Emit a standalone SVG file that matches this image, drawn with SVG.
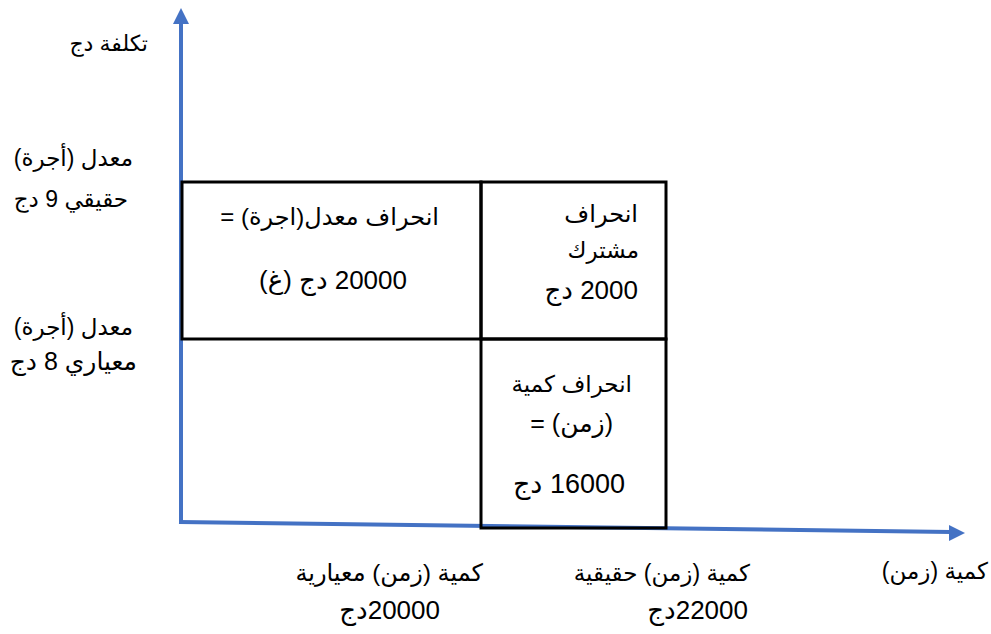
<svg xmlns="http://www.w3.org/2000/svg" width="991" height="634" viewBox="0 0 991 634">
<style>
.t{font-family:"Liberation Sans","DejaVu Sans",sans-serif;font-size:24px;fill:#000}
.r{direction:rtl;text-anchor:start}
.box{fill:none;stroke:#000;stroke-width:3}
.ax{stroke:#4472C4;stroke-width:4;fill:none}
</style>
<rect width="991" height="634" fill="#fff"/>
<g id="connectors">
<line class="ax" x1="181" y1="522" x2="181" y2="22"/>
<polygon points="181,8 173,24 189,24" fill="#4472C4"/>
<line class="ax" x1="179" y1="522" x2="951" y2="532"/>
<polygon points="965,533 949,525 949,541" fill="#4472C4"/>
</g>
<g id="box-rate">
<rect class="box" x="182" y="182" width="299" height="157"/>
<text class="t r" x="439" y="225" direction="rtl">انحراف معدل(اجرة) =</text>
<text class="t r" x="407" y="289" direction="rtl" style="font-size:26px">20000 دج (غ)</text>
</g>
<g id="box-joint">
<rect class="box" x="481" y="182" width="185" height="157"/>
<text class="t r" x="638" y="222" direction="rtl">انحراف</text>
<text class="t r" x="639" y="258" direction="rtl" style="font-size:23px">مشترك</text>
<text class="t r" x="638" y="299" direction="rtl" style="font-size:26px">2000 دج</text>
</g>
<g id="box-qty">
<rect class="box" x="481" y="339" width="185" height="189"/>
<text class="t r" x="632" y="392" direction="rtl" style="font-size:23px">انحراف كمية</text>
<text class="t r" x="613" y="432" direction="rtl" style="font-size:25px">(زمن) =</text>
<text class="t r" x="625" y="493" direction="rtl" style="font-size:27px">16000 دج</text>
</g>
<g id="label-y">
<text class="t r" x="148" y="51" direction="rtl" style="font-size:22px">تكلفة دج</text>
</g>
<g id="label-actual-rate">
<text class="t r" x="133" y="166" direction="rtl" style="font-size:23px">معدل (أجرة)</text>
<text class="t r" x="128" y="207" direction="rtl" style="font-size:23px">حقيقي 9 دج</text>
</g>
<g id="label-std-rate">
<text class="t r" x="133" y="335" direction="rtl" style="font-size:23px">معدل (أجرة)</text>
<text class="t r" x="137" y="370" direction="rtl" style="font-size:25px">معياري 8 دج</text>
</g>
<g id="label-std-qty">
<text class="t r" x="483" y="581" direction="rtl">كمية (زمن) معيارية</text>
<text class="t r" x="440" y="619" direction="rtl" style="font-size:26px">20000دج</text>
</g>
<g id="label-actual-qty">
<text class="t r" x="750" y="581" direction="rtl" style="font-size:23px">كمية (زمن) حقيقية</text>
<text class="t r" x="748" y="619" direction="rtl" style="font-size:26px">22000دج</text>
</g>
<g id="label-x">
<text class="t r" x="988" y="579" direction="rtl" style="font-size:23px">كمية (زمن)</text>
</g>
</svg>
